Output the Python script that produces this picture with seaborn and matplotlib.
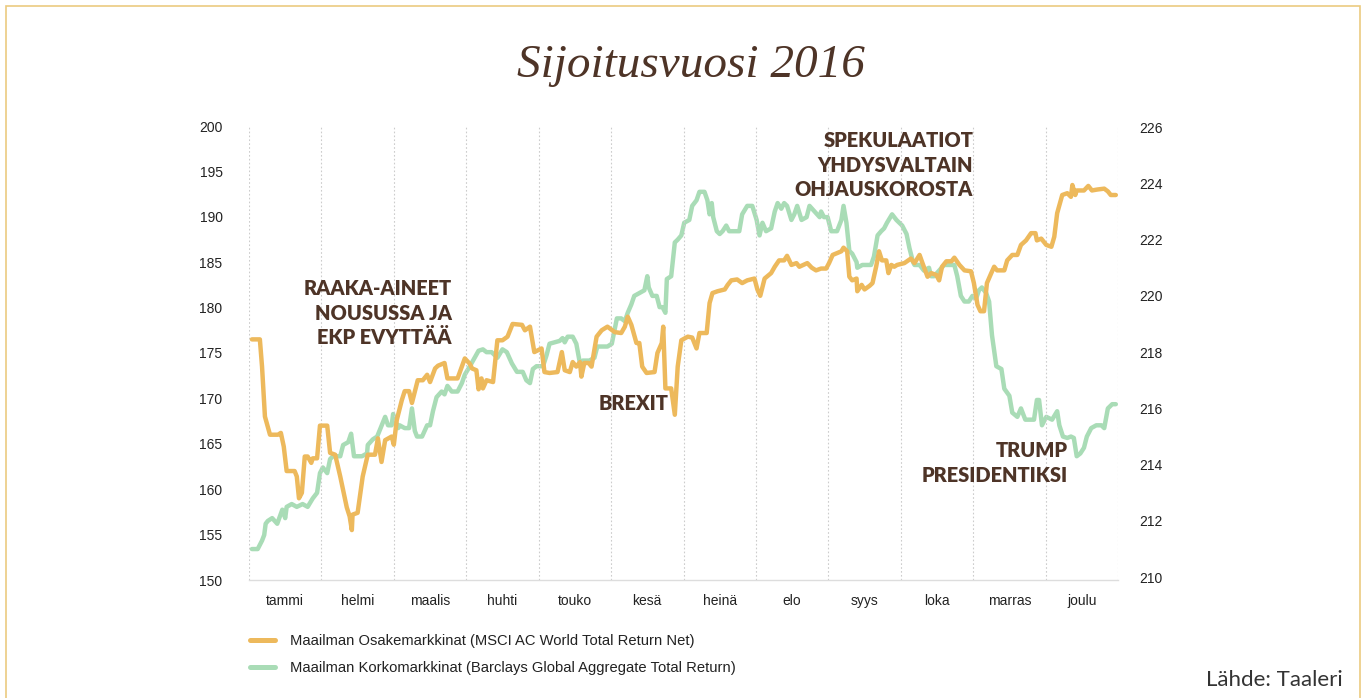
import matplotlib
matplotlib.use("Agg")
import matplotlib.pyplot as plt
import seaborn as sns
from matplotlib.patches import Rectangle
from matplotlib.lines import Line2D

# ---------------- data ----------------
month_labels = ["tammi", "helmi", "maalis", "huhti", "touko", "kesä",
                "heinä", "elo", "syys", "loka", "marras", "joulu"]

# time in months since 1 Jan 2016, MSCI ACWI (left axis)
equity_t = [0.04, 0.15, 0.18, 0.22, 0.29, 0.40, 0.44, 0.48, 0.52, 0.63, 0.66, 0.69, 0.73, 0.77,
            0.81, 0.86, 0.88, 0.94, 0.98, 1.08, 1.12, 1.19, 1.26, 1.35, 1.39, 1.42, 1.43, 1.50,
            1.57, 1.64, 1.74, 1.78, 1.83, 1.88, 1.97, 2.00, 2.04, 2.11, 2.15, 2.21, 2.25, 2.33,
            2.40, 2.46, 2.50, 2.57, 2.61, 2.70, 2.74, 2.88, 2.98, 3.05, 3.08, 3.14, 3.17, 3.21,
            3.23, 3.28, 3.37, 3.43, 3.50, 3.57, 3.64, 3.77, 3.81, 3.88, 3.94, 4.04, 4.08, 4.15,
            4.26, 4.32, 4.36, 4.43, 4.47, 4.52, 4.57, 4.59, 4.63, 4.69, 4.73, 4.80, 4.87, 4.95,
            5.05, 5.14, 5.19, 5.23, 5.28, 5.35, 5.39, 5.43, 5.49, 5.60, 5.64, 5.70, 5.72, 5.75,
            5.83, 5.88, 5.92, 5.97, 6.06, 6.12, 6.18, 6.22, 6.32, 6.36, 6.40, 6.47, 6.57, 6.61,
            6.66, 6.74, 6.81, 6.88, 6.98, 7.02, 7.06, 7.12, 7.21, 7.26, 7.32, 7.39, 7.43, 7.49,
            7.56, 7.60, 7.71, 7.77, 7.83, 7.90, 7.97, 8.01, 8.06, 8.12, 8.18, 8.21, 8.26, 8.29,
            8.33, 8.39, 8.40, 8.46, 8.50, 8.57, 8.61, 8.66, 8.70, 8.74, 8.80, 8.83, 8.87, 8.91,
            8.95, 9.05, 9.14, 9.19, 9.26, 9.30, 9.37, 9.42, 9.49, 9.53, 9.57, 9.63, 9.70, 9.74,
            9.81, 9.88, 9.97, 10.01, 10.06, 10.10, 10.15, 10.19, 10.25, 10.29, 10.33, 10.43,
            10.47, 10.54, 10.61, 10.66, 10.73, 10.80, 10.86, 10.88, 10.94, 11.01, 11.08, 11.12,
            11.16, 11.23, 11.30, 11.35, 11.37, 11.41, 11.43, 11.53, 11.59, 11.64, 11.71, 11.81,
            11.86, 11.90, 11.97]
equity_v = [176.5, 176.5, 173.5, 168.0, 166.0, 166.0, 166.2, 164.7, 162.0, 162.0, 161.4, 159.0, 159.6, 163.6,
            163.6, 162.9, 163.4, 163.4, 167.0, 167.0, 164.0, 163.8, 161.4, 158.0, 157.0, 155.5, 157.2, 157.4,
            161.4, 163.8, 163.8, 165.6, 163.0, 165.4, 165.8, 164.9, 167.6, 169.8, 170.8, 170.8, 169.5, 172.0,
            172.0, 172.6, 171.8, 173.3, 173.6, 173.9, 172.2, 172.2, 174.4, 173.8, 173.3, 173.1, 171.0, 172.2,
            171.1, 172.0, 171.8, 176.4, 176.4, 176.8, 178.2, 178.1, 177.5, 177.9, 175.1, 175.5, 172.9, 172.8,
            172.9, 175.1, 173.1, 172.9, 174.0, 173.5, 174.0, 172.4, 173.9, 173.9, 173.5, 176.8, 177.5, 177.9,
            177.3, 177.2, 177.9, 179.0, 178.1, 176.1, 176.1, 173.5, 172.8, 172.9, 175.0, 176.1, 177.9, 171.1,
            171.1, 168.2, 173.5, 176.4, 176.8, 176.7, 175.5, 177.2, 177.2, 180.5, 181.6, 181.8, 182.0, 182.5,
            183.0, 183.1, 182.7, 183.0, 183.2, 182.0, 181.3, 183.2, 183.8, 184.5, 185.2, 185.2, 185.7, 184.7,
            184.9, 184.5, 184.9, 184.4, 184.1, 184.3, 184.3, 184.9, 185.8, 186.0, 186.2, 186.6, 186.2, 183.4,
            183.0, 183.2, 181.8, 182.5, 182.0, 182.4, 182.7, 184.5, 186.2, 185.2, 185.2, 183.8, 184.7, 184.5,
            184.7, 184.9, 185.4, 184.9, 185.8, 184.9, 183.4, 183.8, 183.6, 183.0, 184.5, 185.1, 185.1, 185.5,
            184.7, 184.1, 184.0, 182.7, 180.3, 179.6, 179.6, 182.7, 183.8, 184.5, 184.1, 184.1,
            185.2, 185.8, 185.8, 186.9, 187.4, 188.2, 188.2, 187.4, 187.6, 186.9, 186.7, 187.8,
            190.4, 192.4, 192.6, 192.2, 193.5, 192.4, 192.9, 192.9, 193.4, 192.9, 193.0, 193.1,
            192.8, 192.4, 192.4]

# Barclays Global Aggregate (right axis)
bond_t = [0.04, 0.12, 0.18, 0.21, 0.23, 0.26, 0.32, 0.39, 0.46, 0.50, 0.52, 0.59, 0.66, 0.74, 0.81,
          0.88, 0.94, 0.98, 1.02, 1.08, 1.12, 1.16, 1.26, 1.30, 1.37, 1.41, 1.45, 1.56, 1.63, 1.64,
          1.71, 1.77, 1.88, 1.92, 1.97, 1.99, 2.06, 2.08, 2.15, 2.21, 2.25, 2.29, 2.32, 2.39, 2.46,
          2.50, 2.54, 2.59, 2.66, 2.70, 2.74, 2.80, 2.88, 2.94, 2.98, 3.05, 3.17, 3.23, 3.28, 3.35,
          3.43, 3.50, 3.56, 3.63, 3.70, 3.78, 3.83, 3.88, 3.92, 3.97, 4.06, 4.11, 4.15, 4.22, 4.29,
          4.33, 4.36, 4.40, 4.47, 4.52, 4.57, 4.61, 4.70, 4.77, 4.81, 4.87, 4.95, 5.01, 5.08, 5.14,
          5.19, 5.23, 5.28, 5.32, 5.39, 5.46, 5.50, 5.52, 5.57, 5.63, 5.67, 5.71, 5.75, 5.77, 5.83,
          5.88, 5.92, 5.97, 6.01, 6.08, 6.12, 6.18, 6.22, 6.29, 6.33, 6.36, 6.39, 6.41, 6.46, 6.50,
          6.54, 6.59, 6.63, 6.68, 6.77, 6.81, 6.88, 6.95, 7.01, 7.05, 7.09, 7.14, 7.21, 7.26, 7.30,
          7.35, 7.39, 7.43, 7.49, 7.53, 7.57, 7.63, 7.70, 7.74, 7.81, 7.88, 7.90, 7.94, 7.99, 8.04,
          8.12, 8.18, 8.21, 8.25, 8.29, 8.33, 8.39, 8.40, 8.47, 8.59, 8.63, 8.68, 8.73, 8.77, 8.81,
          8.88, 8.94, 8.98, 9.02, 9.08, 9.12, 9.17, 9.19, 9.26, 9.32, 9.39, 9.42, 9.46, 9.53, 9.60,
          9.74, 9.78, 9.83, 9.88, 9.94, 9.99, 10.04, 10.08, 10.12, 10.18, 10.22, 10.26, 10.32, 10.39,
          10.43, 10.50, 10.54, 10.61, 10.66, 10.72, 10.84, 10.88, 10.91, 10.95, 11.01, 11.09, 11.16,
          11.19, 11.24, 11.30, 11.35, 11.39, 11.43, 11.48, 11.53, 11.57, 11.63, 11.70, 11.77, 11.81,
          11.86, 11.92, 11.97]
bond_v = [211.0, 211.0, 211.3, 211.5, 211.9, 212.0, 212.1, 211.9, 212.4, 212.1, 212.5, 212.6, 212.5, 212.6, 212.5,
          212.8, 213.0, 213.7, 213.9, 213.7, 214.2, 214.3, 214.3, 214.7, 214.8, 215.1, 214.3, 214.3, 214.4, 214.7,
          214.9, 215.0, 215.7, 215.4, 215.4, 215.8, 215.3, 215.4, 215.3, 215.3, 216.0, 215.2, 215.0, 215.0, 215.4,
          215.4, 215.9, 216.4, 216.6, 216.5, 216.8, 216.6, 216.6, 216.9, 217.2, 217.5, 218.05, 218.1, 218.0, 218.0,
          217.8, 218.1, 218.0, 217.6, 217.3, 217.3, 217.0, 216.9, 217.4, 217.5, 217.5, 217.9, 218.3, 218.35, 218.4,
          218.5, 218.35, 218.55, 218.55, 218.3, 217.6, 217.7, 217.7, 217.8, 218.2, 218.2, 218.2, 218.3, 219.2, 219.2,
          219.1, 219.4, 219.7, 220.0, 220.1, 220.2, 220.7, 220.3, 220.0, 220.0, 219.6, 219.6, 219.4, 220.6, 220.7,
          221.9, 222.0, 222.15, 222.6, 222.7, 223.2, 223.4, 223.7, 223.7, 223.4, 222.9, 223.3, 222.8, 222.3, 222.2,
          222.3, 222.5, 222.3, 222.3, 222.3, 222.9, 223.2, 223.2, 222.7, 222.15, 222.6, 222.3, 222.4, 223.0, 223.3,
          223.1, 223.3, 223.2, 222.7, 222.9, 223.2, 222.7, 222.8, 223.2, 223.0, 222.8, 223.0, 222.8, 222.8, 222.3,
          222.3, 222.7, 223.2, 222.6, 221.6, 221.5, 221.2, 221.0, 221.1, 221.1, 221.4, 222.15, 222.3, 222.4, 222.6,
          222.9, 222.7, 222.6, 222.5, 222.2, 221.7, 221.2, 221.1, 221.1, 220.9, 221.0, 220.7, 220.7, 220.9, 221.1,
          221.1, 220.7, 220.0, 219.8, 219.8, 220.0, 219.9, 220.2, 220.3, 220.1, 219.8, 218.6, 217.5, 217.4,
          216.7, 216.45, 215.85, 215.7, 216.0, 215.6, 215.6, 216.3, 216.3, 215.4, 215.7, 215.6, 215.9,
          215.4, 215.0, 214.95, 215.0, 214.95, 214.3, 214.4, 214.6, 215.0, 215.3, 215.4, 215.4, 215.3,
          216.0, 216.15, 216.15]

left_ticks = [150, 155, 160, 165, 170, 175, 180, 185, 190, 195, 200]
right_ticks = [210, 212, 214, 216, 218, 220, 222, 224, 226]

equity_label = "Maailman Osakemarkkinat (MSCI AC World Total Return Net)"
bond_label = "Maailman Korkomarkkinat (Barclays Global Aggregate Total Return)"

ORANGE = "#EDB95C"
GREEN = "#A9DCB6"
BROWN = "#4E3427"
GOLD = "#EBCB80"

# ---------------- figure ----------------
sns.set_theme(style="white")
plt.rcParams["font.family"] = ["Liberation Sans", "DejaVu Sans"]

fig = plt.figure(figsize=(13.66, 6.98), dpi=100)
W, H = 1366, 698
ax = fig.add_axes([249 / W, 1 - 580 / H, (1118 - 249) / W, (580 - 126) / H])
ax2 = ax.twinx()

sns.lineplot(x=bond_t, y=bond_v, ax=ax2, color=GREEN, lw=3.2, estimator=None, sort=False, legend=False)
sns.lineplot(x=equity_t, y=equity_v, ax=ax, color=ORANGE, lw=3.2, estimator=None, sort=False, legend=False)
ax.set_zorder(ax2.get_zorder() + 1)
ax.patch.set_visible(False)

ax.set_xlim(0, 12)
ax.set_ylim(150, 200)
ax2.set_ylim(209.9, 226.04)

ax.set_yticks(left_ticks)
ax.set_yticklabels([str(v) for v in left_ticks])
ax2.set_yticks(right_ticks)
ax2.set_yticklabels([str(v) for v in right_ticks])

ax.set_xticks(range(13))
ax.set_xticklabels([""] * 13)
ax.set_xticks([i + 0.5 for i in range(12)], minor=True)
ax.set_xticklabels(month_labels, minor=True)
ax.tick_params(axis="x", which="both", length=0, pad=10, labelsize=10, labelcolor="#222222")
ax.tick_params(axis="y", length=0, pad=19, labelsize=10, labelcolor="#222222")
ax2.tick_params(axis="y", length=0, pad=15, labelsize=10, labelcolor="#222222")
ax.set_xlabel("")
ax.set_ylabel("")
ax2.set_ylabel("")

ax.grid(False)
ax2.grid(False)
ax.xaxis.grid(True, which="major", color="#cccccc", linestyle=(0, (1.5, 2)), lw=0.8)

for a in (ax, ax2):
    for s in ("top", "left", "right", "bottom"):
        a.spines[s].set_visible(False)
ax.spines["bottom"].set_visible(True)
ax.spines["bottom"].set_color("#dddddd")
ax.spines["bottom"].set_linewidth(1)

# annotations
afont = dict(family=["Lato", "DejaVu Sans"], weight="heavy", color=BROWN, fontsize=14.4,
             linespacing=1.35, multialignment="right")
ax.text(2.80, 179.4, "RAAKA-AINEET\nNOUSUSSA JA\nEKP EVYTTÄÄ", ha="right", va="center", **afont)
ax.text(5.79, 169.4, "BREXIT", ha="right", va="center", **afont)
ax.text(10.0, 195.7, "SPEKULAATIOT\nYHDYSVALTAIN\nOHJAUSKOROSTA", ha="right", va="center", **afont)
ax.text(11.30, 162.9, "TRUMP\nPRESIDENTIKSI", ha="right", va="center", **afont)

# title
fig.text(691 / W, 1 - 66 / H, "Sijoitusvuosi 2016", ha="center", va="center",
         family=["Liberation Serif", "DejaVu Serif"], style="italic", fontsize=34, color=BROWN)

# legend
handles = [Line2D([0], [0], color=ORANGE, lw=3.6), Line2D([0], [0], color=GREEN, lw=3.6)]
fig.legend(handles, [equity_label, bond_label], loc="upper left",
           bbox_to_anchor=(244 / W, 1 - 628 / H), frameon=False, fontsize=10.6,
           handlelength=1.7, handletextpad=1.0, labelspacing=0.9, borderaxespad=0,
           labelcolor="#222222")

# source
fig.text(1343 / W, 1 - 680 / H, "Lähde: Taaleri", ha="right", va="center",
         family=["Lato", "DejaVu Sans"], fontsize=16, color="#333333")

# border
fig.patches.append(Rectangle((6 / W, -0.01), 1 - 12 / W, 1 - 6 / H + 0.01,
                             transform=fig.transFigure, fill=False, edgecolor=GOLD, lw=1.2))

fig.savefig("out.png", dpi=100)
